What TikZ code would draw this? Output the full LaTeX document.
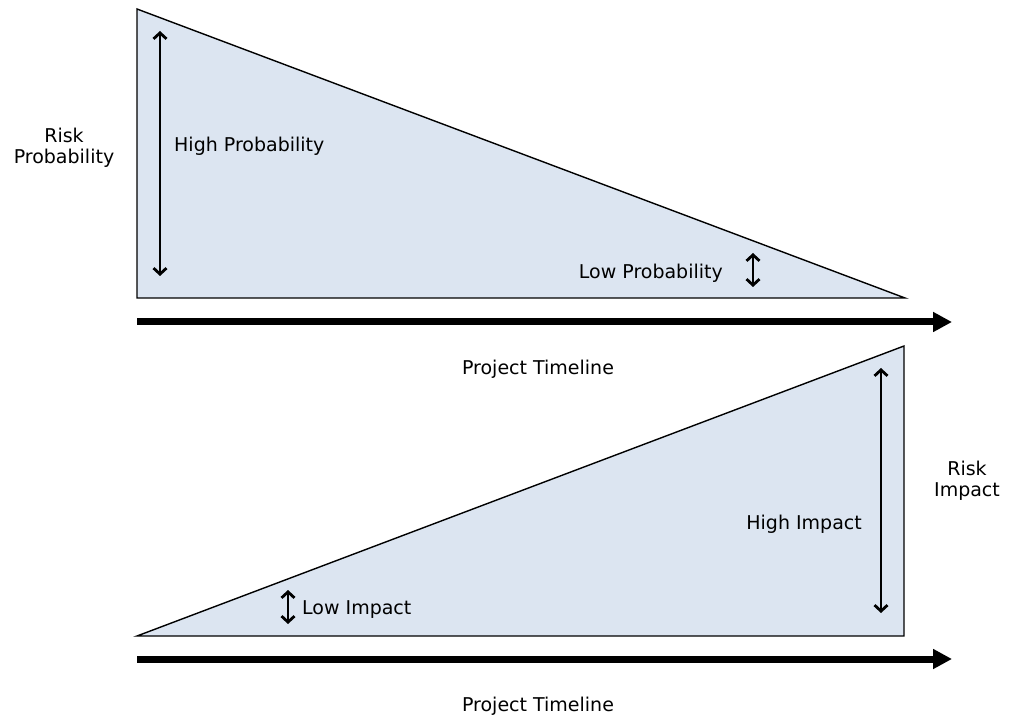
\documentclass[tikz,border=0pt]{standalone}
\usepackage{fontspec}
\setmainfont{DejaVu Sans}
\usetikzlibrary{arrows.meta}
\definecolor{fillblue}{HTML}{DCE5F1}
\begin{document}
\begin{tikzpicture}[x=1pt,y=-1pt,
  tri/.style={fill=fillblue,draw=black,line width=1.4pt,line join=miter},
  timeline/.style={line width=7pt,-{Triangle[length=19pt,width=19pt]}},
  dbl/.style={line width=2.8pt,{Straight Barb[length=6pt,width=13pt]}-{Straight Barb[length=6pt,width=13pt]}},
  lbl/.style={font=\fontsize{19}{21}\selectfont,inner sep=0pt},
  lbl2/.style={font=\fontsize{19}{21}\selectfont,inner sep=0pt,align=center}]
\useasboundingbox (0,0) rectangle (1015,719);
% top triangle
\coordinate (t1) at (137,9);
\coordinate (t2) at (137,298);
\coordinate (t3) at (905,298);
\draw[tri] (t1) -- (t2) -- (t3) -- cycle;
\coordinate (a1s) at (137,322);
\coordinate (a1e) at (952,322);
\draw[timeline] (a1s) -- (a1e);
\coordinate (hp1) at (160,31);
\coordinate (hp2) at (160,276);
\draw[dbl] (hp1) -- (hp2);
\node[lbl,anchor=west] (hpt) at (174,146) {High Probability};
\node[lbl,anchor=east] (lpt) at (723,273) {Low Probability};
\coordinate (lp1) at (753,253);
\coordinate (lp2) at (753,287);
\draw[dbl] (lp1) -- (lp2);
\node[lbl] (pt1) at (538,369) {Project Timeline};
\node[lbl2] (rp) at (64,148) {Risk\\Probability};
% bottom triangle
\coordinate (b1) at (137,636);
\coordinate (b2) at (904,346);
\coordinate (b3) at (904,636);
\draw[tri] (b1) -- (b2) -- (b3) -- cycle;
\coordinate (a2s) at (137,659);
\coordinate (a2e) at (952,659);
\draw[timeline] (a2s) -- (a2e);
\coordinate (hi1) at (881,368);
\coordinate (hi2) at (881,613);
\draw[dbl] (hi1) -- (hi2);
\node[lbl,anchor=east] (hit) at (862,524) {High Impact};
\node[lbl2] (ri) at (967,481) {Risk\\Impact};
\coordinate (li1) at (288,590);
\coordinate (li2) at (288,624);
\draw[dbl] (li1) -- (li2);
\node[lbl,anchor=west] (lit) at (302,610) {Low Impact};
\node[lbl] (pt2) at (538,706) {Project Timeline};
\end{tikzpicture}
\end{document}
